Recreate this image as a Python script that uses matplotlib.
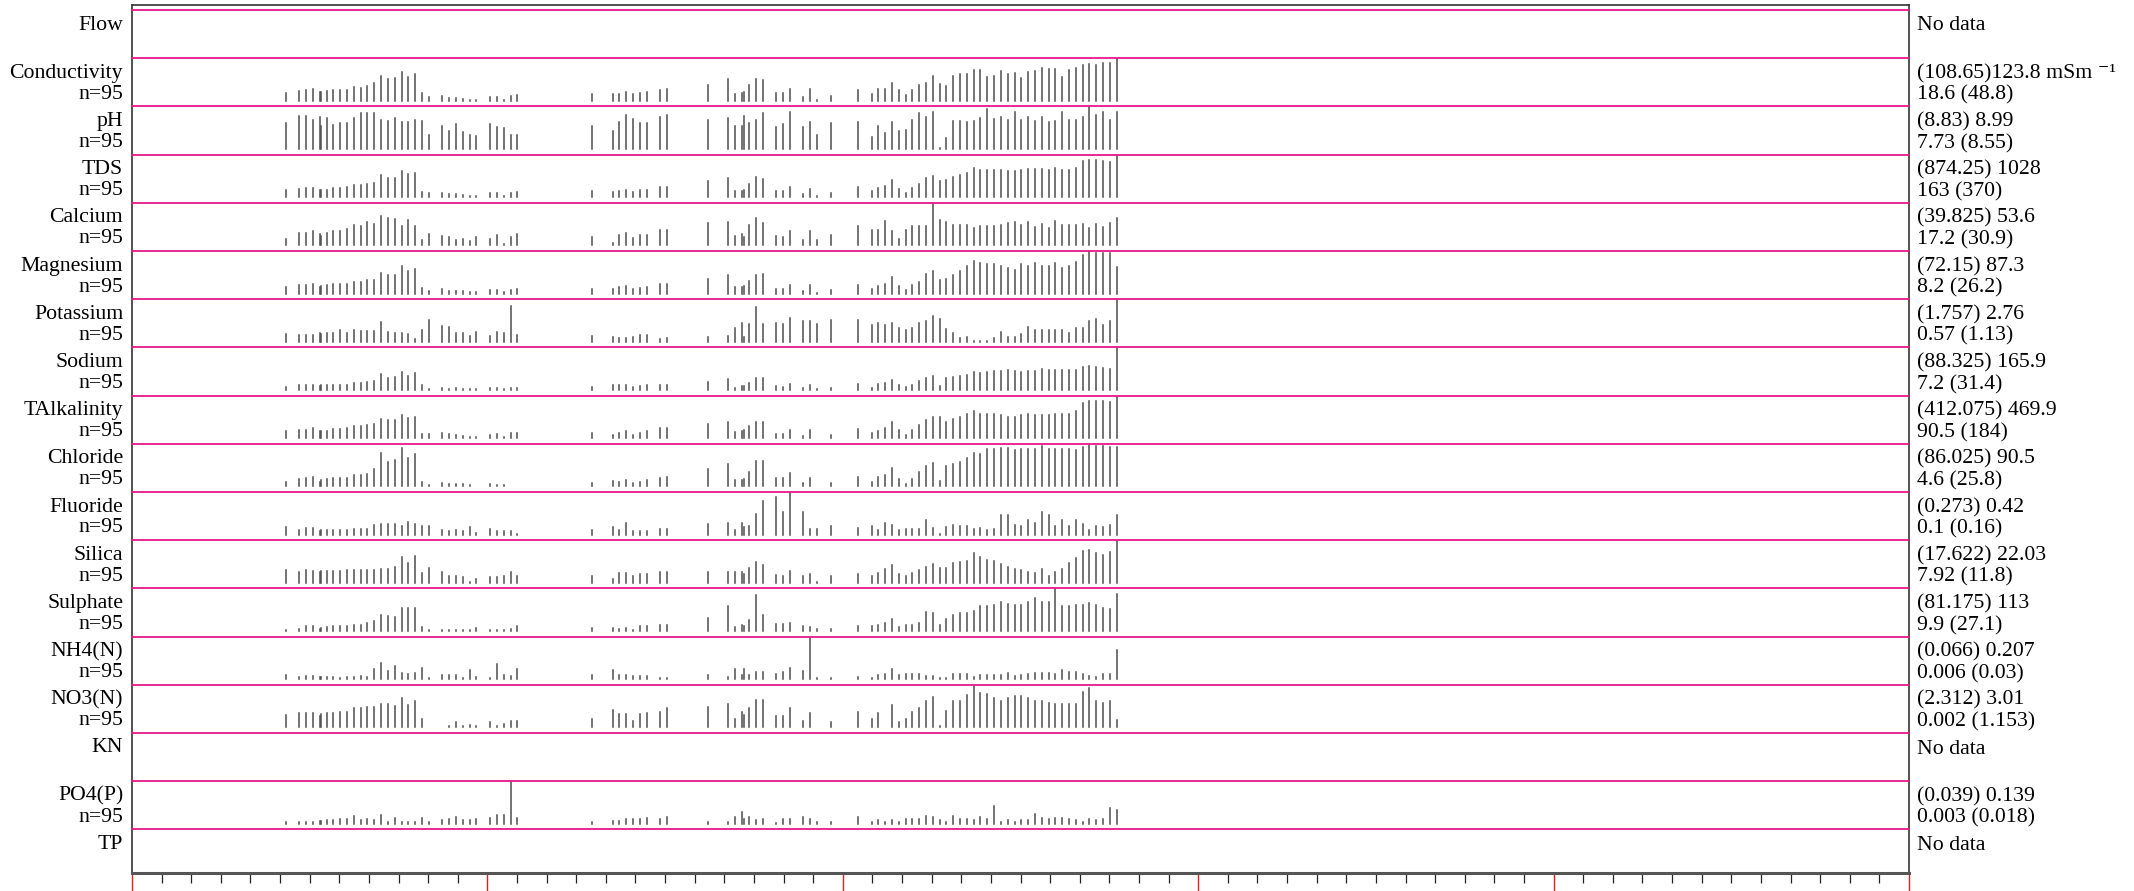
import numpy as np
import matplotlib
matplotlib.use('Agg')
import matplotlib.pyplot as plt

plt.rcParams['font.family'] = ['Liberation Serif', 'DejaVu Serif']

# sampling dates, days from the start of the 5-year axis (weekly, n=95)
sample_day = [158, 172, 179, 186, 193, 194, 200, 207, 214, 221, 228, 235, 242, 249, 256, 263,
              270, 277, 284, 291, 298, 305, 319, 326, 333, 340, 347, 354, 368, 375, 382, 389, 396,
              473, 494, 501, 508, 515, 522, 529, 543, 550,
              592, 613, 620, 627, 629, 634, 641, 648, 662, 669, 676, 690, 697, 704, 718,
              746, 760, 767, 774, 781, 788, 795, 802, 809, 816, 823, 830, 837, 844, 851, 858,
              865, 872, 879, 886, 893, 900, 907, 914, 921, 928, 935, 942, 949, 956, 963, 970,
              977, 984, 991, 998, 1005, 1012]

# bar heights, % of the range between the minimum and maximum of each variable
conductivity = [18, 23, 26, 28, 20, 22, 23, 25, 25, 26, 33, 31, 35, 41, 58, 52, 53, 68, 55, 62, 18, 8, 11, 7, 6, 5, 3, 3, 9, 8, 3, 11, 13,
                15, 17, 17, 22, 15, 18, 21, 26, 28,
                38, 51, 15, 18, 20, 37, 52, 48, 18, 18, 28, 10, 27, 2, 12,
                25, 16, 27, 29, 43, 25, 13, 25, 37, 42, 59, 39, 36, 58, 62, 64, 73, 72, 56, 59, 70, 62, 65, 54, 68, 71, 78, 75, 75, 57, 72, 77, 85, 87, 85, 88, 88, 100]
ph = [61, 78, 78, 67, 75, 54, 72, 56, 62, 61, 74, 85, 85, 84, 68, 65, 72, 64, 64, 68, 65, 34, 55, 43, 59, 41, 32, 31, 59, 52, 50, 32, 32,
      55, 42, 63, 79, 71, 60, 62, 75, 80,
      68, 72, 53, 53, 78, 61, 68, 84, 52, 59, 86, 52, 63, 34, 62,
      64, 28, 55, 38, 63, 43, 45, 68, 85, 76, 88, 2, 26, 66, 66, 63, 65, 74, 94, 71, 76, 68, 88, 67, 75, 65, 75, 63, 66, 86, 68, 68, 75, 100, 80, 88, 68, 88]
tds = [16, 20, 22, 22, 18, 18, 18, 21, 22, 23, 29, 28, 32, 34, 52, 45, 45, 62, 55, 57, 12, 10, 11, 8, 7, 5, 2, 3, 9, 10, 2, 9, 13,
       14, 12, 15, 18, 12, 17, 18, 23, 23,
       37, 45, 14, 14, 18, 31, 48, 44, 14, 14, 23, 8, 20, 2, 10,
       23, 14, 22, 27, 41, 19, 11, 22, 32, 45, 51, 39, 40, 48, 52, 57, 68, 64, 64, 64, 64, 61, 62, 63, 66, 66, 66, 64, 68, 64, 64, 68, 85, 88, 87, 85, 83, 100]
calcium = [16, 29, 29, 34, 26, 22, 29, 35, 35, 38, 47, 45, 54, 51, 68, 64, 62, 46, 59, 45, 13, 27, 22, 21, 13, 16, 10, 21, 15, 24, 3, 19, 26,
           19, 6, 24, 29, 18, 24, 25, 36, 36,
           52, 56, 23, 28, 19, 48, 64, 52, 22, 20, 35, 12, 34, 13, 24,
           45, 36, 36, 58, 35, 15, 36, 45, 45, 45, 100, 60, 55, 48, 48, 49, 42, 45, 46, 46, 48, 52, 56, 47, 54, 44, 50, 41, 58, 49, 48, 47, 50, 42, 50, 44, 52, 64]
magnesium = [15, 20, 20, 23, 16, 18, 20, 22, 22, 23, 28, 28, 31, 33, 48, 44, 44, 65, 54, 58, 14, 6, 10, 7, 7, 6, 4, 3, 8, 8, 4, 9, 11,
             12, 12, 15, 18, 12, 14, 15, 22, 22,
             35, 43, 15, 16, 18, 30, 44, 45, 11, 11, 20, 6, 20, 2, 8,
             21, 11, 19, 23, 39, 17, 8, 20, 28, 45, 52, 31, 35, 43, 52, 66, 77, 72, 70, 70, 65, 60, 56, 70, 64, 72, 65, 65, 72, 60, 64, 74, 91, 100, 96, 96, 95, 63]
potassium = [18, 15, 17, 17, 20, 18, 22, 22, 28, 20, 28, 26, 25, 26, 47, 23, 22, 22, 18, 7, 28, 51, 38, 34, 22, 20, 13, 24, 13, 24, 20, 85, 15,
             14, 12, 8, 8, 12, 15, 15, 7, 8,
             12, 13, 32, 45, 11, 42, 81, 42, 45, 42, 55, 49, 49, 42, 52,
             51, 40, 44, 40, 44, 32, 28, 32, 44, 49, 60, 53, 31, 21, 8, 11, 3, 3, 3, 8, 23, 11, 12, 19, 35, 28, 28, 28, 28, 28, 21, 32, 32, 48, 53, 40, 50, 100]
sodium = [8, 11, 12, 13, 9, 11, 12, 12, 13, 13, 16, 17, 20, 22, 37, 28, 31, 42, 34, 39, 11, 2, 5, 2, 4, 2, 2, 2, 5, 5, 2, 5, 5,
          7, 11, 11, 11, 7, 9, 11, 12, 12,
          19, 26, 6, 9, 10, 16, 28, 28, 9, 8, 15, 5, 12, 2, 5,
          14, 6, 14, 16, 23, 12, 8, 12, 21, 28, 32, 10, 28, 31, 32, 35, 42, 41, 43, 45, 45, 46, 45, 42, 45, 45, 49, 48, 48, 48, 46, 47, 55, 57, 53, 52, 49, 100]
talkalinity = [16, 19, 20, 24, 16, 18, 18, 21, 22, 24, 29, 29, 32, 33, 45, 42, 42, 55, 47, 50, 11, 10, 12, 11, 7, 5, 3, 2, 8, 11, 4, 12, 13,
               12, 7, 12, 18, 8, 12, 16, 23, 24,
               34, 39, 15, 18, 19, 28, 37, 38, 10, 10, 19, 5, 19, 1, 8,
               22, 12, 18, 24, 37, 19, 8, 19, 31, 42, 49, 49, 38, 46, 49, 57, 65, 58, 57, 57, 55, 49, 51, 55, 57, 54, 54, 54, 57, 57, 57, 64, 83, 88, 88, 88, 84, 100]
chloride = [11, 18, 20, 22, 11, 15, 18, 20, 20, 20, 27, 27, 29, 41, 78, 57, 61, 91, 67, 75, 11, 3, 8, 5, 5, 6, 3, 2, 5, 3, 3, 2, 2,
            8, 12, 11, 16, 8, 10, 16, 21, 23,
            40, 53, 15, 15, 17, 35, 59, 59, 19, 19, 31, 8, 20, 2, 8,
            22, 11, 23, 27, 43, 17, 6, 17, 34, 49, 54, 12, 48, 52, 58, 66, 78, 76, 87, 87, 91, 91, 86, 87, 87, 87, 96, 88, 88, 88, 88, 86, 93, 100, 96, 96, 93, 93]
fluoride = [17, 11, 15, 15, 9, 11, 11, 11, 12, 11, 14, 14, 14, 23, 25, 26, 26, 20, 30, 24, 20, 20, 10, 9, 11, 9, 18, 3, 14, 8, 9, 8, 2,
            12, 19, 10, 27, 8, 9, 9, 13, 13,
            24, 27, 11, 27, 19, 21, 48, 80, 88, 52, 100, 52, 14, 14, 21,
            15, 21, 12, 27, 22, 11, 14, 14, 14, 35, 16, 2, 18, 23, 20, 21, 13, 16, 12, 14, 47, 47, 22, 21, 34, 27, 53, 47, 21, 35, 21, 35, 25, 11, 21, 17, 22, 45]
silica = [30, 26, 30, 27, 25, 27, 27, 27, 27, 30, 31, 30, 30, 30, 33, 33, 37, 60, 47, 62, 23, 34, 25, 17, 16, 13, 3, 10, 14, 14, 16, 25, 17,
          16, 9, 23, 23, 16, 20, 22, 25, 25,
          25, 25, 25, 25, 22, 34, 49, 42, 19, 15, 28, 15, 22, 2, 15,
          22, 15, 23, 32, 42, 22, 15, 23, 31, 38, 44, 34, 36, 46, 48, 52, 69, 60, 54, 52, 44, 38, 32, 31, 26, 23, 32, 17, 26, 32, 46, 59, 75, 77, 69, 65, 72, 100]
sulphate = [3, 6, 11, 12, 6, 8, 9, 11, 12, 12, 15, 15, 19, 23, 38, 36, 32, 54, 53, 55, 10, 3, 3, 3, 2, 2, 2, 8, 2, 2, 2, 5, 12,
            8, 8, 5, 8, 3, 11, 11, 15, 15,
            31, 58, 10, 14, 12, 25, 85, 37, 16, 16, 19, 12, 10, 5, 6,
            12, 12, 14, 19, 28, 10, 14, 14, 20, 45, 43, 14, 28, 38, 43, 43, 47, 58, 58, 62, 69, 64, 60, 60, 69, 77, 69, 68, 100, 58, 58, 60, 60, 65, 60, 54, 52, 87]
nh4 = [10, 6, 8, 8, 6, 5, 5, 5, 4, 5, 5, 8, 6, 23, 38, 20, 31, 15, 12, 15, 26, 3, 9, 9, 11, 3, 22, 6, 3, 36, 11, 7, 25,
       11, 21, 9, 11, 8, 8, 8, 3, 3,
       9, 6, 25, 11, 23, 11, 17, 17, 13, 17, 27, 19, 100, 3, 3,
       6, 2, 9, 12, 23, 9, 12, 13, 13, 8, 8, 3, 3, 13, 13, 13, 6, 9, 9, 9, 9, 15, 8, 9, 12, 15, 15, 15, 13, 21, 18, 18, 13, 8, 6, 12, 12, 68]
no3 = [29, 35, 35, 35, 28, 31, 33, 35, 37, 37, 45, 45, 47, 48, 54, 54, 51, 70, 53, 61, 20, 2, 2, 3, 12, 3, 5, 3, 14, 3, 8, 15, 15,
       21, 41, 31, 31, 16, 31, 35, 37, 45,
       49, 54, 20, 37, 29, 45, 64, 64, 26, 26, 45, 15, 33, 2, 14,
       37, 20, 33, 2, 52, 14, 21, 37, 46, 61, 71, 3, 38, 62, 63, 75, 100, 80, 78, 70, 61, 68, 74, 74, 70, 61, 61, 58, 55, 55, 55, 55, 82, 93, 62, 57, 62, 18]
po4 = [5, 4, 4, 5, 6, 6, 8, 8, 11, 12, 18, 8, 12, 8, 21, 5, 13, 5, 5, 5, 13, 4, 10, 12, 15, 8, 8, 12, 13, 22, 22, 100, 13,
       4, 6, 6, 12, 12, 12, 13, 12, 15,
       5, 4, 15, 28, 12, 15, 8, 12, 2, 12, 12, 15, 12, 4, 5,
       15, 4, 8, 4, 8, 4, 12, 12, 12, 19, 17, 8, 4, 19, 12, 12, 9, 17, 12, 42, 5, 8, 5, 8, 8, 23, 13, 12, 13, 13, 12, 8, 5, 12, 8, 12, 38, 32]

# (label, values, upper right text "(75th) max", lower right text "min (median)")
rows = [
    ('Flow', None, 'No data', None),
    ('Conductivity', conductivity, '(108.65)123.8 mSm \u207b\u00b9', '18.6 (48.8)'),
    ('pH', ph, '(8.83) 8.99', '7.73 (8.55)'),
    ('TDS', tds, '(874.25) 1028', '163 (370)'),
    ('Calcium', calcium, '(39.825) 53.6', '17.2 (30.9)'),
    ('Magnesium', magnesium, '(72.15) 87.3', '8.2 (26.2)'),
    ('Potassium', potassium, '(1.757) 2.76', '0.57 (1.13)'),
    ('Sodium', sodium, '(88.325) 165.9', '7.2 (31.4)'),
    ('TAlkalinity', talkalinity, '(412.075) 469.9', '90.5 (184)'),
    ('Chloride', chloride, '(86.025) 90.5', '4.6 (25.8)'),
    ('Fluoride', fluoride, '(0.273) 0.42', '0.1 (0.16)'),
    ('Silica', silica, '(17.622) 22.03', '7.92 (11.8)'),
    ('Sulphate', sulphate, '(81.175) 113', '9.9 (27.1)'),
    ('NH4(N)', nh4, '(0.066) 0.207', '0.006 (0.03)'),
    ('NO3(N)', no3, '(2.312) 3.01', '0.002 (1.153)'),
    ('KN', None, 'No data', None),
    ('PO4(P)', po4, '(0.039) 0.139', '0.003 (0.018)'),
    ('TP', None, 'No data', None),
]

W, H = 2134, 891
pink = '#e8178a'
fs = 15.7
x0, x1 = 132, 1909          # plot frame in pixels
y_top, y_bot = 5, 873
row_top0, row_h = 10, 48.2
span = 5 * 365.25

fig = plt.figure(figsize=(W / 100, H / 100), dpi=100)

frame = fig.add_axes([x0 / W, (H - y_bot) / H, (x1 - x0) / W, (y_bot - y_top) / H])
frame.set_xlim(0, span)
frame.set_yticks([])
frame.set_xticks(np.arange(0, span + 1, 365.25))
frame.set_xticks(np.arange(0, span + 1, 365.25 / 12), minor=True)
frame.tick_params(axis='x', which='major', length=14, width=1, color='#e0201c', labelbottom=False)
frame.tick_params(axis='x', which='minor', length=7.5, width=0.9, color='#222222')
for s in ['left', 'right', 'top']:
    frame.spines[s].set_color('#333333')
    frame.spines[s].set_linewidth(1.2)
frame.spines['bottom'].set_color('#555555')
frame.spines['bottom'].set_linewidth(2.2)

for i, (label, vals, txt_hi, txt_lo) in enumerate(rows):
    top = row_top0 + row_h * i
    h = row_h if i < len(rows) - 1 else y_bot - top
    ax = fig.add_axes([x0 / W, (H - top - h) / H, (x1 - x0) / W, h / H])
    ax.patch.set_alpha(0)
    ax.set_xlim(0, span)
    ax.set_ylim(-12.9, 100)
    ax.set_xticks([])
    ax.set_yticks([])
    for s in ['left', 'right', 'bottom']:
        ax.spines[s].set_visible(False)
    ax.spines['top'].set_color(pink)
    ax.spines['top'].set_linewidth(1.3)

    ax.text(-0.005, 1 - 15 / h, label, transform=ax.transAxes, ha='right', va='center', fontsize=fs)
    if vals is None:
        ax.text(1.0045, 1 - 16 / h, txt_hi, transform=ax.transAxes, ha='left', va='center', fontsize=fs)
        continue
    ax.text(-0.005, 1 - 36 / h, 'n=95', transform=ax.transAxes, ha='right', va='center', fontsize=fs)
    ax.text(1.0045, 1 - 15.5 / h, txt_hi, transform=ax.transAxes, ha='left', va='center', fontsize=fs)
    ax.text(1.0045, 1 - 37 / h, txt_lo, transform=ax.transAxes, ha='left', va='center', fontsize=fs)
    ax.vlines(sample_day, 0, vals, colors='#4d4d4d', linewidth=1.1, capstyle='projecting')

fig.savefig('out.png', dpi=100)
